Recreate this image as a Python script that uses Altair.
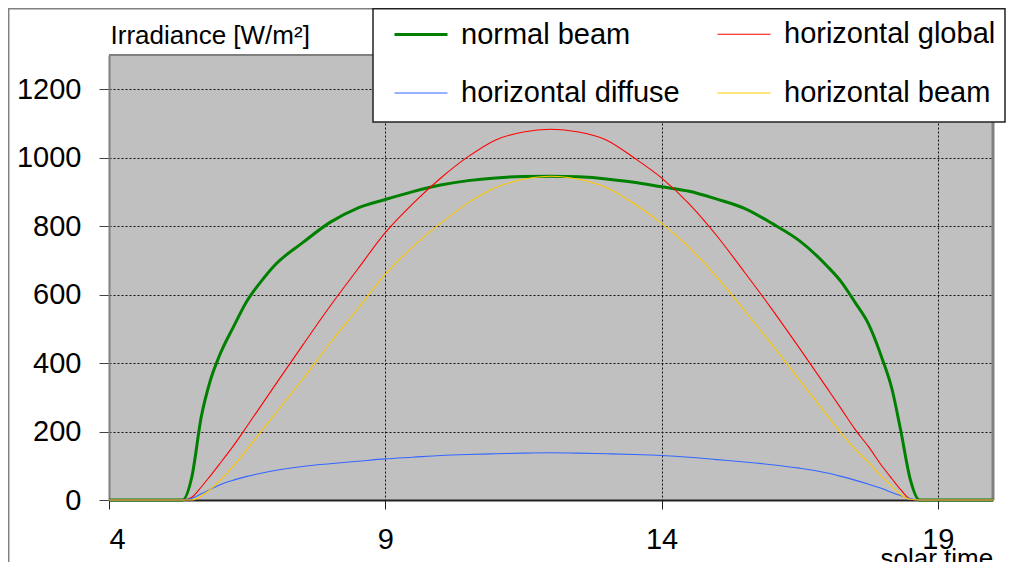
import pandas as pd
import altair as alt

# solar time [h] and irradiance [W/m2]
hours = [4, 5, 5.33, 5.5, 5.67, 5.83, 6, 6.25, 6.5, 6.75,
         7, 7.5, 8, 8.5, 9, 9.5, 10, 10.5, 11, 11.5,
         12, 12.5, 13, 13.5, 14, 14.5, 15, 15.5, 16, 16.5,
         17, 17.25, 17.5, 17.75, 18, 18.17, 18.33, 18.5, 18.67, 19,
         20]
normal_beam = [0, 0, 0, 68, 243, 347, 422, 505, 582, 638,
               686, 751, 811, 853, 878, 901, 920, 933, 941, 945,
               946, 944, 938, 928, 915, 902, 879, 852, 808, 757,
               683, 638, 578, 513, 410, 325, 203, 62, 0, 0,
               0]
horizontal_global = [0, 0, 0, 8, 38, 70, 105, 158, 216, 275,
                     334, 451, 566, 674, 781, 866, 940, 1003, 1052, 1075,
                     1083, 1075, 1052, 1000, 941, 865, 772, 666, 557, 443,
                     326, 267, 207, 155, 97, 62, 30, 3, 0, 0,
                     0]
horizontal_diffuse = [0, 0, 0, 5, 18, 31, 44, 58, 69, 78,
                      86, 98, 106, 113, 120, 125, 130, 133, 135, 137,
                      138, 137, 135, 133, 130, 125, 118, 111, 103, 93,
                      79, 69, 58, 46, 33, 22, 13, 4, 0, 0,
                      0]
horizontal_beam = [0, 0, 0, 0, 12, 30, 56, 99, 148, 200,
                   250, 352, 458, 558, 660, 740, 808, 868, 913, 937,
                   946, 937, 913, 866, 808, 738, 652, 554, 454, 350,
                   247, 196, 149, 110, 66, 40, 16, 2, 0, 0,
                   0]

# drawing order (yellow last, on top)
names = ["normal beam", "horizontal global", "horizontal diffuse", "horizontal beam"]
series = [normal_beam, horizontal_global, horizontal_diffuse, horizontal_beam]
# legend order (the legend fills column by column)
legend_order = ["normal beam", "horizontal diffuse", "horizontal global", "horizontal beam"]
colors = ["#008000", "#3366FF", "#FF0000", "#FFC800"]
widths = [3, 1.1, 1.1, 1.1]

rows = []
for name, values in zip(names, series):
    for h, v in zip(hours, values):
        rows.append({"hour": h, "value": v, "series": name})
df = pd.DataFrame(rows)
one = pd.DataFrame({"k": [0]})

W, H = 884, 445
FONT = "Liberation Sans"

lines = (
    alt.Chart(df)
    .mark_line(interpolate="monotone")
    .encode(
        x=alt.X(
            "hour:Q",
            scale=alt.Scale(domain=[4, 20], nice=False, zero=False),
            axis=alt.Axis(
                values=[4, 9, 14, 19], title="solar time", format="d",
                titleX=771, titleY=66, titleAlign="left", titleBaseline="alphabetic",
                domainColor="#222222", domainWidth=2, tickColor="#222222",
                tickSize=9, labelPadding=16,
            ),
        ),
        y=alt.Y(
            "value:Q",
            scale=alt.Scale(domain=[0, 1300], nice=False),
            axis=alt.Axis(
                values=[0, 200, 400, 600, 800, 1000, 1200], format="d",
                title="Irradiance [W/m²]",
                titleAngle=0, titleX=1, titleY=-12, titleAlign="left",
                titleBaseline="alphabetic",
                domainColor="#808080", domainWidth=2, tickColor="#444444",
                tickSize=10, labelPadding=18,
            ),
        ),
        color=alt.Color(
            "series:N",
            scale=alt.Scale(domain=legend_order, range=colors),
            legend=alt.Legend(
                title=None, orient="none", legendX=284, legendY=-48.5,
                columns=2, columnPadding=35, rowPadding=16, padding=0,
                symbolType="stroke", symbolSize=2809, labelOffset=12,
                labelFontSize=29, labelFont=FONT, labelColor="black",
                labelLimit=400, zindex=1,
            ),
        ),
        strokeWidth=alt.StrokeWidth(
            "series:N",
            scale=alt.Scale(type="ordinal", domain=legend_order, range=widths),
        ),
    )
)

# plot border (top, right) and the outer chart frame
top_border = alt.Chart(one).mark_rule(color="#808080", strokeWidth=2).encode(
    x=alt.value(0), x2=alt.value(W), y=alt.value(0)
)
right_border = alt.Chart(one).mark_rule(color="#808080", strokeWidth=3).encode(
    x=alt.value(W), y=alt.value(0), y2=alt.value(H)
)
frame_left = alt.Chart(one).mark_rule(color="#808080", strokeWidth=1.5).encode(
    x=alt.value(-100.3), y=alt.value(-47), y2=alt.value(520)
)
frame_top = alt.Chart(one).mark_rule(color="#808080", strokeWidth=1.5).encode(
    x=alt.value(-101), x2=alt.value(264), y=alt.value(-46.2)
)
legend_box = alt.Chart(one).mark_rect(
    fill="white", stroke="#222222", strokeWidth=1.5
).encode(
    x=alt.value(264), x2=alt.value(896), y=alt.value(-46.2), y2=alt.value(67)
)

chart = (
    alt.layer(top_border, right_border, frame_left, frame_top, lines, legend_box)
    .properties(
        width=W, height=H,
        padding={"left": 101, "top": 47, "right": 13, "bottom": 62},
        autosize=alt.AutoSizeParams(type="none"),
        background="white",
    )
    .configure(font=FONT)
    .configure_view(fill="#C0C0C0", strokeWidth=0)
    .configure_axis(
        labelFontSize=29, labelColor="black", labelFont=FONT,
        titleFontSize=26, titleFontWeight="normal", titleColor="black", titleFont=FONT,
        grid=True, gridColor="#111111", gridDash=[2, 2], gridWidth=1,
        tickWidth=1,
    )
)

chart.save("out.html", embed_options={"renderer": "svg", "actions": False})
